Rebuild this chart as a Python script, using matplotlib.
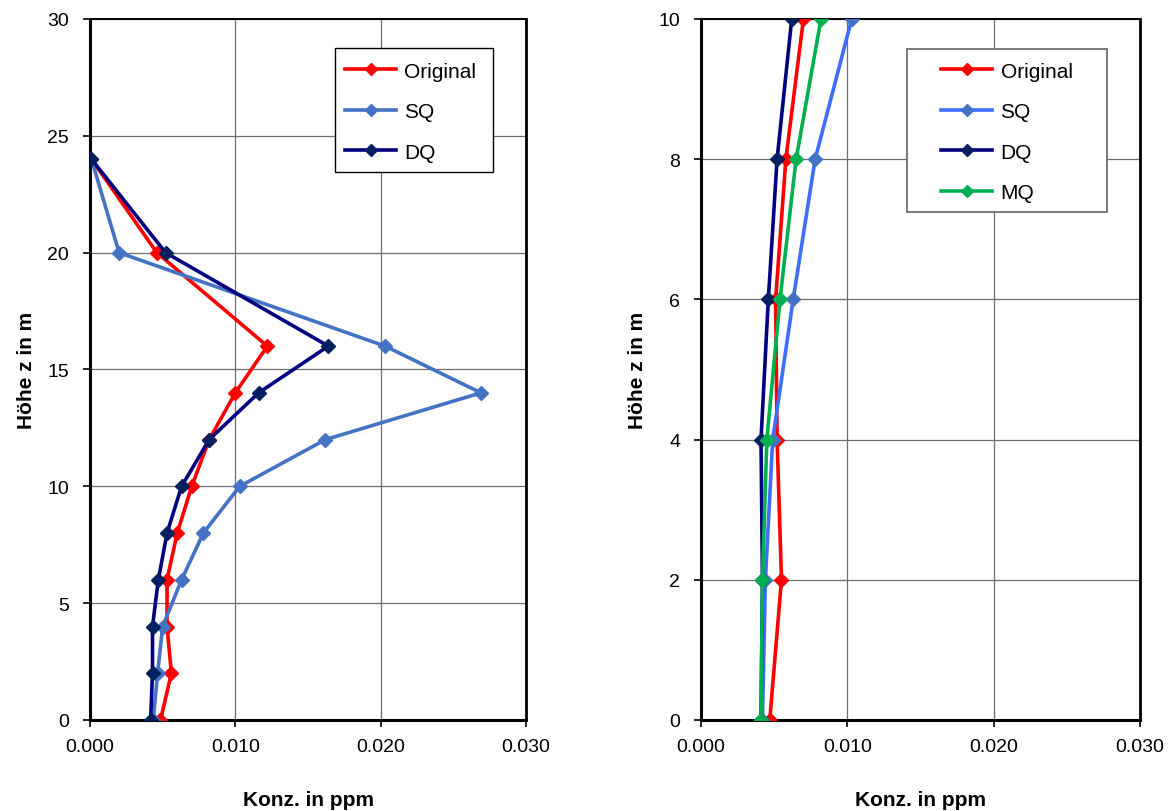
"""Concentration profiles over height: left original/SQ/DQ, right with MQ."""

import matplotlib

matplotlib.use("Agg")
import matplotlib.pyplot as plt
from matplotlib.patches import Rectangle
from matplotlib.ticker import FormatStrFormatter

plt.rcParams["font.family"] = ["Liberation Sans", "DejaVu Sans"]

# left panel
HEIGHT_L = [0, 2, 4, 6, 8, 10, 12, 14, 16, 20, 24]
ORIGINAL_L = [0.00485, 0.0056, 0.0053, 0.0053, 0.0060, 0.0070, 0.0082, 0.0100, 0.0122, 0.0046, 0.0001]
SQ_L = [0.00435, 0.00465, 0.0050, 0.0063, 0.0078, 0.0103, 0.0162, 0.0269, 0.0203, 0.0020, 0.0001]
DQ_L = [0.00417, 0.0043, 0.0043, 0.0047, 0.0053, 0.0063, 0.0082, 0.0116, 0.0164, 0.0052, 0.0001]

# right panel
HEIGHT_R = [0, 2, 4, 6, 8, 10]
ORIGINAL_R = [0.0047, 0.0055, 0.0052, 0.0051, 0.0058, 0.0070]
SQ_R = [0.0042, 0.0044, 0.0049, 0.0063, 0.0078, 0.0103]
DQ_R = [0.0041, 0.0042, 0.0041, 0.0046, 0.0052, 0.0062]
MQ_R = [0.0041, 0.0042, 0.0045, 0.0054, 0.0065, 0.0082]

RED = "#ff0000"
NAVY = "#000080"
NAVY_MARK = "#002060"
GREEN = "#00b050"


def style_axes(ax, ymax, ystep):
    ax.set_xlim(0, 0.030)
    ax.set_ylim(0, ymax)
    ax.set_xticks([0, 0.010, 0.020, 0.030])
    ax.set_yticks(range(0, ymax + 1, ystep))
    ax.xaxis.set_major_formatter(FormatStrFormatter("%.3f"))
    ax.grid(True, color="#6e6e6e", lw=0.9)
    ax.set_axisbelow(True)
    ax.tick_params(direction="out", length=5, width=1.2, labelsize=14, colors="black")
    ax.tick_params(axis="y", pad=10)
    ax.tick_params(axis="x", pad=8)
    ax.spines["left"].set_linewidth(2.2)
    ax.spines["bottom"].set_linewidth(2.2)
    ax.spines["top"].set_linewidth(1.4)
    ax.spines["right"].set_linewidth(2.0)
    ax.set_xlabel("Konz. in ppm", fontsize=15, fontweight="bold", labelpad=25)
    ax.set_ylabel("Höhe z in m", fontsize=15, fontweight="bold", labelpad=8)


def line(ax, x, y, color, mcolor, label):
    ax.plot(x, y, color=color, lw=2.6, marker="D", markersize=7.5,
            markerfacecolor=mcolor, markeredgecolor=mcolor, label=label, zorder=3)


def add_legend(ax, box, anchor, edge, lw):
    # box drawn separately so its size matches the reference
    x0, y0, x1, y1 = box
    ax.add_patch(Rectangle((x0, y0), x1 - x0, y1 - y0, transform=ax.transAxes,
                           facecolor="white", edgecolor=edge, lw=lw, zorder=4))
    leg = ax.legend(loc="upper left", bbox_to_anchor=anchor, borderaxespad=0,
                    borderpad=0, fontsize=15, handlelength=2.45, handletextpad=0.4,
                    labelspacing=1.03, frameon=False, markerscale=0.8)
    leg.set_zorder(5)


def main():
    fig = plt.figure(figsize=(11.75, 8.12), dpi=100)
    ax_l = fig.add_axes([0.0766, 0.1121, 0.3711, 0.8633])
    ax_r = fig.add_axes([0.5966, 0.1121, 0.3736, 0.8633])

    line(ax_l, ORIGINAL_L, HEIGHT_L, RED, RED, "Original")
    line(ax_l, SQ_L, HEIGHT_L, "#4472c4", "#4472c4", "SQ")
    line(ax_l, DQ_L, HEIGHT_L, NAVY, NAVY_MARK, "DQ")
    style_axes(ax_l, 30, 5)
    add_legend(ax_l, (0.562, 0.7817, 0.924, 0.9586), (0.585, 0.939), "black", 1.0)

    line(ax_r, ORIGINAL_R, HEIGHT_R, RED, RED, "Original")
    line(ax_r, SQ_R, HEIGHT_R, "#3d6eff", "#4472c4", "SQ")
    line(ax_r, DQ_R, HEIGHT_R, NAVY, NAVY_MARK, "DQ")
    line(ax_r, MQ_R, HEIGHT_R, GREEN, GREEN, "MQ")
    style_axes(ax_r, 10, 2)
    add_legend(ax_r, (0.469, 0.7247, 0.925, 0.957), (0.547, 0.939), "#707070", 1.3)

    fig.savefig("out.png", dpi=100)


if __name__ == "__main__":
    main()
